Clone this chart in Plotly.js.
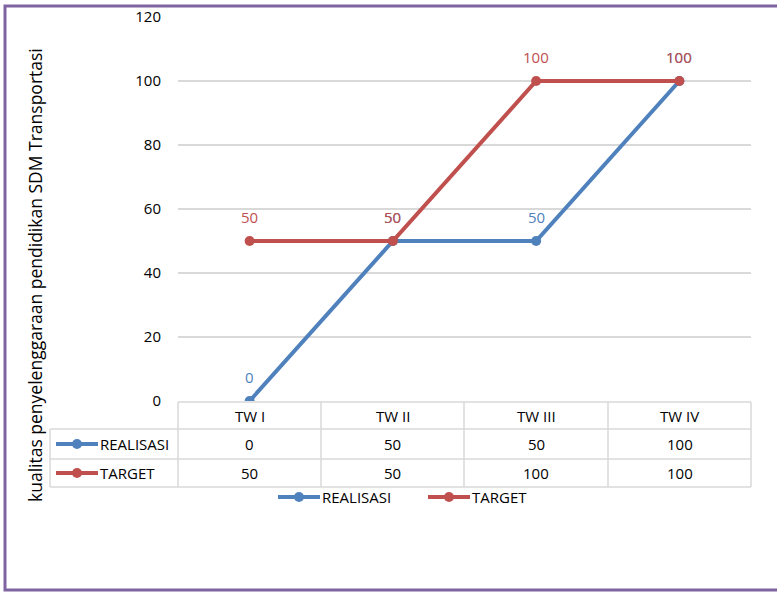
<!DOCTYPE html>
<html><head><meta charset="utf-8">
<script src="https://cdn.plot.ly/plotly-3.0.1.min.js"></script>
<style>body{margin:0;background:#fff}#c{width:777px;height:593px}</style>
</head><body><div id="c"></div>
<script>
const categories = ["TW I", "TW II", "TW III", "TW IV"];
const realisasi = [0, 50, 50, 100];
const target = [50, 50, 100, 100];
const seriesNames = ["REALISASI", "TARGET"];
const yTitle = "kualitas penyelenggaraan pendidikan SDM Transportasi";

const BLUE = "#4F81BD", RED = "#C0504D", GRID = "#D9D9D9", FONT = "Open Sans, sans-serif";
const L = 178, R = 751, T = 17, B = 401;
const px = x => (x - L) / (R - L);
const py = y => (B - y) / (B - T);

const xs = categories.map((c, i) => i);
const traces = [
  {x: xs, y: realisasi, name: seriesNames[0], mode: "lines+markers", line: {color: BLUE, width: 4}, marker: {color: BLUE, size: 10}},
  {x: xs, y: target, name: seriesNames[1], mode: "lines+markers", line: {color: RED, width: 4}, marker: {color: RED, size: 10}}
];

const shapes = [];
const annotations = [];
// border
shapes.push({type: "rect", xref: "paper", yref: "paper", x0: px(5), x1: px(790), y0: py(6), y1: py(590), line: {color: "#8064A2", width: 3}, fillcolor: "rgba(0,0,0,0)", layer: "below"});
// table lines
const rows = [402, 429, 459, 487];
const cols = [178, 321, 464, 608, 751];
const tline = (x0, y0, x1, y1) => shapes.push({type: "line", xref: "paper", yref: "paper", x0: px(x0), x1: px(x1), y0: py(y0), y1: py(y1), line: {color: GRID, width: 1.5}});
tline(178, rows[0], 751, rows[0]);
tline(50, rows[1], 751, rows[1]);
tline(50, rows[2], 751, rows[2]);
tline(50, rows[3], 751, rows[3]);
cols.forEach(c => tline(c, rows[0], c, rows[3]));
tline(50, rows[1], 50, rows[3]);

const rowMid = [415.5, 444, 473];
const colMid = categories.map((c, i) => (cols[i] + cols[i + 1]) / 2);
const txt = (x, y, s, anchor, color, size) => annotations.push({xref: "paper", yref: "paper", x: px(x), y: py(y), text: s, showarrow: false, xanchor: anchor || "center", yanchor: "middle", font: {family: FONT, size: size || 15, color: color || "#000"}});
const key = (x0, y, col) => {
  shapes.push({type: "line", xref: "paper", yref: "paper", x0: px(x0), x1: px(x0 + 42), y0: py(y), y1: py(y), line: {color: col, width: 4}});
  shapes.push({type: "circle", xref: "paper", yref: "paper", x0: px(x0 + 16), x1: px(x0 + 26), y0: py(y + 5), y1: py(y - 5), line: {color: col, width: 0}, fillcolor: col});
};
categories.forEach((c, i) => txt(colMid[i], rowMid[0], c));
[realisasi, target].forEach((arr, r) => {
  arr.forEach((v, i) => txt(colMid[i], rowMid[r + 1], String(v)));
  const col = r === 0 ? BLUE : RED;
  const y = rowMid[r + 1];
  key(56, y, col);
  txt(98, y, seriesNames[r], "left");
});
// legend below table
key(278, 497, BLUE); txt(320, 497, seriesNames[0], "left");
key(428, 497, RED); txt(470, 497, seriesNames[1], "left");

// data labels
[[realisasi, BLUE], [target, RED]].forEach(([arr, col]) => {
  arr.forEach((v, i) => annotations.push({xref: "x", yref: "y", x: i, y: v, text: String(v), showarrow: false, yshift: 24, font: {family: FONT, size: 15, color: col}}));
});

// y title
annotations.push({xref: "paper", yref: "paper", x: px(35), y: py(275), text: yTitle, textangle: -90, showarrow: false, xanchor: "center", yanchor: "middle", font: {family: FONT, size: 17.5, color: "#000"}});

const layout = {
  width: 777, height: 593,
  margin: {l: L, r: 777 - R, t: T, b: 593 - B, pad: 0},
  paper_bgcolor: "#fff", plot_bgcolor: "#fff",
  font: {family: FONT, color: "#000"},
  xaxis: {range: [-0.5, 3.5], showticklabels: false, showgrid: false, zeroline: false, showline: false, fixedrange: true},
  yaxis: {range: [0, 120], dtick: 20, tick0: 0, gridcolor: GRID, gridwidth: 1.5, zeroline: false, showline: false, ticks: "", ticklabelstandoff: 16, tickfont: {family: FONT, size: 15, color: "#000"}},
  showlegend: false,
  shapes: shapes, annotations: annotations
};
Plotly.newPlot("c", traces, layout, {staticPlot: true, displayModeBar: false});
</script></body></html>
